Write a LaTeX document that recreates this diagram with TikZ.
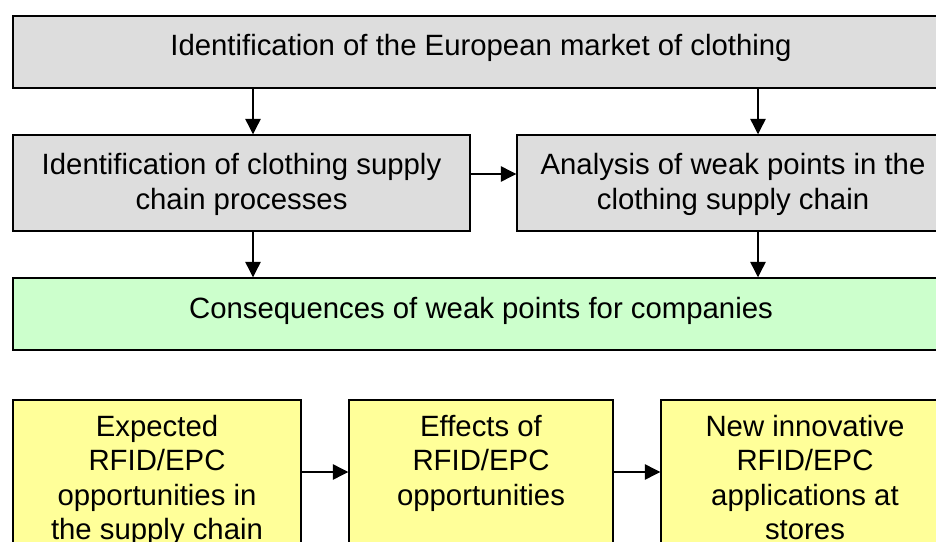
\documentclass[tikz,border=0pt]{standalone}
\usepackage{fontspec}
\setmainfont{Liberation Sans}
\usetikzlibrary{arrows.meta,fit}
\definecolor{boxgray}{HTML}{DDDDDD}
\definecolor{boxgreen}{HTML}{CCFFCC}
\definecolor{boxyellow}{HTML}{FFFF99}
\begin{document}
\begin{tikzpicture}[x=0.75pt,y=-0.75pt,
  box/.style={draw=black, line width=1.1pt, rectangle, inner sep=0pt},
  lbl/.style={anchor=north, inner sep=0pt, align=center, font=\fontsize{22pt}{25.8pt}\selectfont},
  arr/.style={line width=1pt, -{Triangle[length=11.5pt,width=11.5pt]}}]
\useasboundingbox (0,0) rectangle (936,542);
\clip (0,0) rectangle (936,542);
% boxes
\node[box, fill=boxgray, fit={(13,16) (949,88)}] (top) {};
\node[box, fill=boxgray, fit={(13,135) (470,231)}] (b2l) {};
\node[box, fill=boxgray, fit={(517,135) (949,231)}] (b2r) {};
\node[box, fill=boxgreen, fit={(13,278) (949,350)}] (green) {};
\node[box, fill=boxyellow, fit={(13,400) (301,590)}] (ba) {};
\node[box, fill=boxyellow, fit={(349,400) (613,590)}] (bb) {};
\node[box, fill=boxyellow, fit={(661,400) (949,590)}] (bc) {};
% arrow positions
\coordinate (xa) at (253,0);
\coordinate (xb) at (758,0);
\coordinate (ya) at (0,174);
\coordinate (yb) at (0,472);
\draw[arr] (top.south -| xa) -- (b2l.north -| xa);
\draw[arr] (top.south -| xb) -- (b2r.north -| xb);
\draw[arr] (b2l.south -| xa) -- (green.north -| xa);
\draw[arr] (b2r.south -| xb) -- (green.north -| xb);
\draw[arr] (b2l.east |- ya) -- (b2r.west |- ya);
\draw[arr] (ba.east |- yb) -- (bb.west |- yb);
\draw[arr] (bb.east |- yb) -- (bc.west |- yb);
% texts
\node[lbl] (ttop) at (481,33.5) {Identification of the European market of clothing};
\node[lbl] (tb2l) at (241.5,153.3) {Identification of clothing supply\\chain processes};
\node[lbl] (tb2r) at (733,153.3) {Analysis of weak points in the\\clothing supply chain};
\node[lbl] (tgreen) at (481,297) {Consequences of weak points for companies};
\node[lbl] (tba) at (157,415) {Expected\\RFID/EPC\\opportunities in\\the supply chain};
\node[lbl] (tbb) at (481,415) {Effects of\\RFID/EPC\\opportunities};
\node[lbl] (tbc) at (805,415) {New innovative\\RFID/EPC\\applications at\\stores};
\end{tikzpicture}
\end{document}
